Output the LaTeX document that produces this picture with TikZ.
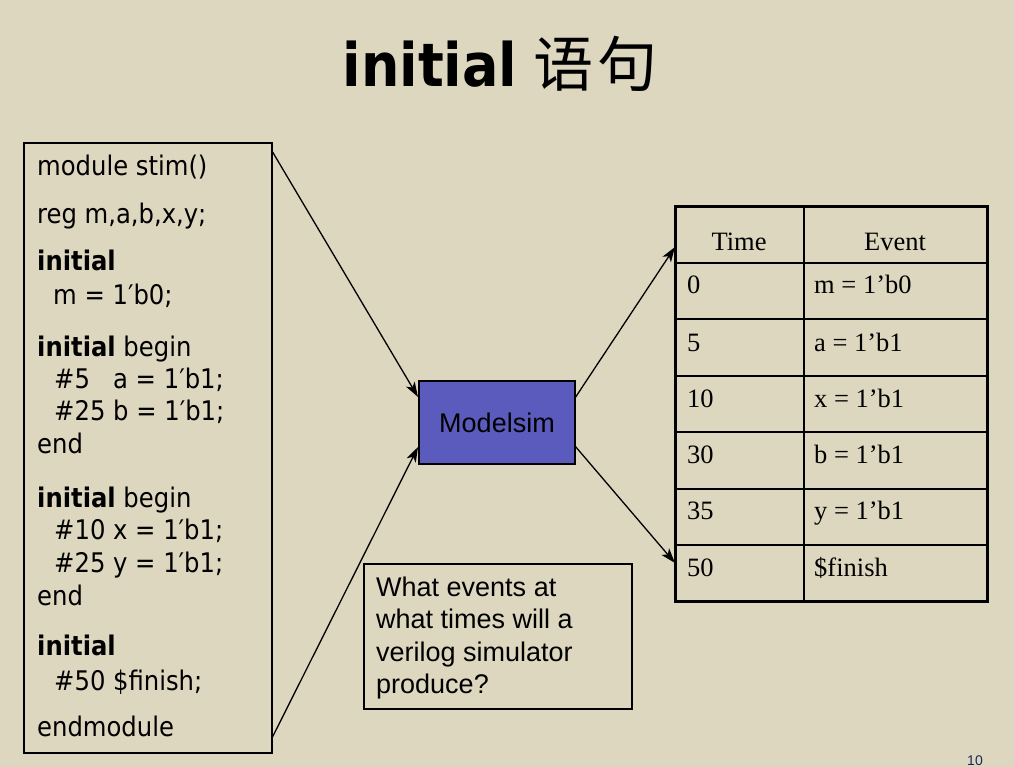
\documentclass[tikz,border=0pt]{standalone}
\usepackage{fontspec}
\setmainfont{Liberation Sans}
\newfontfamily\codefont{DejaVu Sans Condensed}
\newfontfamily\timesfont{Liberation Serif}
\newfontfamily\cjk{Noto Sans CJK SC}
\usetikzlibrary{arrows.meta}
\definecolor{bg}{RGB}{221,215,192}
\definecolor{msim}{RGB}{91,91,190}
\definecolor{pgnum}{RGB}{30,40,90}
\begin{document}
\begin{tikzpicture}[x=1pt,y=-1pt,
  codeline/.style={anchor=base west, inner sep=0pt, font=\codefont\fontsize{27}{30}\selectfont},
  qline/.style={anchor=base west, inner sep=0pt, font=\fontsize{27}{30}\selectfont},
  cell/.style={anchor=base west, inner sep=0pt, font=\timesfont\fontsize{26.5}{30}\selectfont},
  hcell/.style={anchor=base, inner sep=0pt, font=\timesfont\fontsize{26.5}{30}\selectfont},
  conn/.style={line width=1.3pt, -{Stealth[length=15pt,width=10pt,inset=4pt]}},
  frame/.style={draw, line width=1.2pt, inner sep=0pt}]
\fill[bg] (0,0) rectangle (1014,767);
\useasboundingbox (0,0) rectangle (1014,767);

% title
\node[anchor=base, inner sep=0pt] (title) at (500,87)
  {{\codefont\bfseries\fontsize{60}{62}\selectfont initial}\hspace{16pt}{\cjk\fontsize{60}{62}\selectfont 语\hspace{4pt}句}};

% code box
\node[frame, minimum width=248pt, minimum height=610pt] (code) at (148,448) {};
\node[codeline] (l1) at (37,176) {module stim()};
\node[codeline] (l2) at (37,224) {reg m,a,b,x,y;};
\node[codeline] (l3) at (37,271) {\bfseries initial};
\node[codeline] (l4) at (53,304) {m = 1′b0;};
\node[codeline] (l5) at (37,356) {{\bfseries initial} begin};
\node[codeline] (l6) at (54,388) {\#5\phantom{2} a = 1′b1;};
\node[codeline] (l7) at (54,420) {\#25 b = 1′b1;};
\node[codeline] (l8) at (37,453) {end};
\node[codeline] (l9) at (37,507) {{\bfseries initial} begin};
\node[codeline] (l10) at (54,539) {\#10 x = 1′b1;};
\node[codeline] (l11) at (54,572) {\#25 y = 1′b1;};
\node[codeline] (l12) at (37,605) {end};
\node[codeline] (l13) at (37,655) {\bfseries initial};
\node[codeline] (l14) at (54,690) {\#50 \$finish;};
\node[codeline] (l15) at (37,736) {endmodule};

% modelsim
\node[frame, fill=msim, minimum width=156pt, minimum height=83pt,
      font=\fontsize{27}{30}\selectfont] (ms) at (497,422.5) {Modelsim};

% question box
\node[frame, minimum width=268pt, minimum height=145pt] (q) at (498,636.5) {};
\node[qline] (q1) at (376,596) {What events at};
\node[qline] (q2) at (376,628) {what times will a};
\node[qline] (q3) at (376,661) {verilog simulator};
\node[qline] (q4) at (376,693) {produce?};

% table
\node[draw, line width=3pt, inner sep=0pt, minimum width=312pt, minimum height=394pt] (tab) at (831,404) {};
\foreach \yy in {263,319,376,432,489,545}
  \draw[line width=2pt] (675,\yy) -- (987,\yy);
\draw[line width=2pt] (804,207) -- (804,601);
\node[hcell] (hT) at (739,251) {Time};
\node[hcell] (hE) at (895,251) {Event};
\node[cell] (t1) at (687,294) {0};
\node[cell] (e1) at (814,294) {m = 1’b0};
\node[cell] (t2) at (687,351) {5};
\node[cell] (e2) at (814,351) {a = 1’b1};
\node[cell] (t3) at (687,407) {10};
\node[cell] (e3) at (814,407) {x = 1’b1};
\node[cell] (t4) at (687,463) {30};
\node[cell] (e4) at (814,463) {b = 1’b1};
\node[cell] (t5) at (687,519) {35};
\node[cell] (e5) at (814,519) {y = 1’b1};
\node[cell] (t6) at (687,576) {50};
\node[cell] (e6) at (814,576) {\$finish};

% connectors
\coordinate (cs1) at (272,151);
\coordinate (cs2) at (272,738);
\coordinate (mi1) at (418,397);
\coordinate (mi2) at (418,447);
\coordinate (mo1) at (575,398);
\coordinate (mo2) at (575,446);
\coordinate (ti1) at (675,247);
\coordinate (ti2) at (675,563);
\draw[conn] (cs1) -- (mi1);
\draw[conn] (cs2) -- (mi2);
\draw[conn] (mo1) -- (ti1);
\draw[conn] (mo2) -- (ti2);

% page number
\node[anchor=base, inner sep=0pt, text=pgnum, font=\fontsize{14}{16}\selectfont] (pg) at (975,765) {10};
\end{tikzpicture}
\end{document}
